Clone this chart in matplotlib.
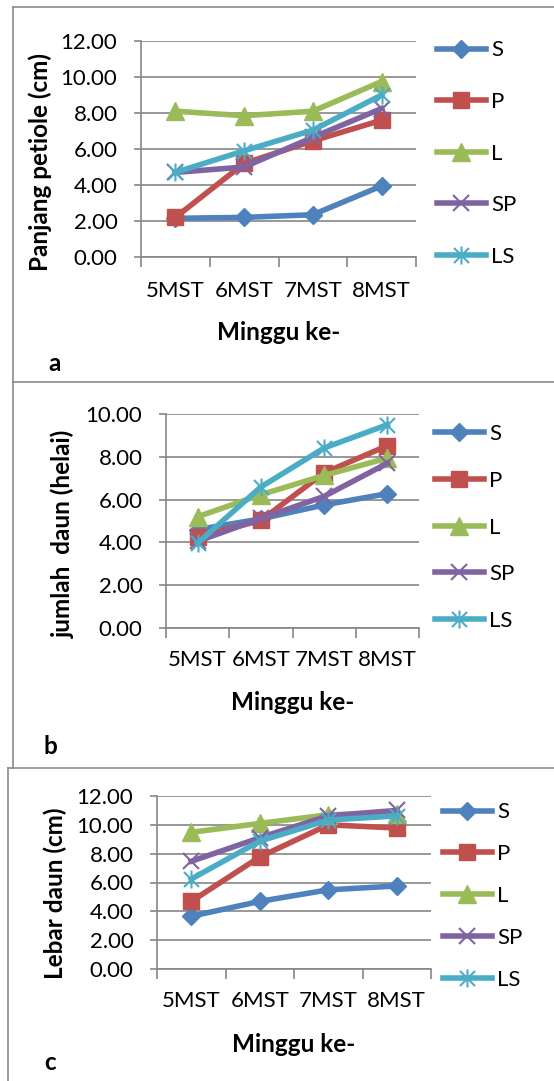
import matplotlib
matplotlib.use('Agg')
import matplotlib.pyplot as plt
from matplotlib.lines import Line2D
from matplotlib.path import Path

plt.rcParams['font.family'] = ['Lato', 'DejaVu Sans']

# data
weeks = ['5MST', '6MST', '7MST', '8MST']
series = ['S', 'P', 'L', 'SP', 'LS']

petiole_S = [2.15, 2.2, 2.35, 3.95]
petiole_P = [2.2, 5.2, 6.45, 7.6]
petiole_L = [8.1, 7.85, 8.1, 9.75]
petiole_SP = [4.7, 5.0, 6.65, 8.25]
petiole_LS = [4.7, 5.9, 7.05, 9.0]

leaves_S = [4.6, 5.1, 5.75, 6.28]
leaves_P = [4.25, 5.03, 7.25, 8.52]
leaves_L = [5.2, 6.23, 7.13, 7.94]
leaves_SP = [4.05, 5.12, 6.15, 7.7]
leaves_LS = [3.97, 6.59, 8.41, 9.5]

width_S = [3.66, 4.69, 5.49, 5.76]
width_P = [4.69, 7.77, 10.0, 9.78]
width_L = [9.48, 10.1, 10.7, 10.78]
width_SP = [7.47, 9.1, 10.63, 11.0]
width_LS = [6.24, 8.87, 10.33, 10.62]

colors = ['#4F81BD', '#C0504D', '#9BBB59', '#8064A2', '#4BACC6']

W, H = 554, 1081
fig = plt.figure(figsize=(W / 100, H / 100), dpi=100)

# excel-style asterisk marker (x plus vertical stroke)
star = Path([(-0.5, -0.5), (0.5, 0.5), (-0.5, 0.5), (0.5, -0.5), (0, -0.6), (0, 0.6)],
            [Path.MOVETO, Path.LINETO, Path.MOVETO, Path.LINETO, Path.MOVETO, Path.LINETO])
markers = [dict(marker='D', ms=9.5), dict(marker='s', ms=12),
           dict(marker='^', ms=13), dict(marker='x', ms=12, mew=1.5),
           dict(marker=star, ms=13, mew=1.5)]

GRID = '#868686'
FS = 16
FSB = 17.5


def fx(x):
    return x / W


def fy(y):
    return 1 - y / H


def frame_line(x0, y0, x1, y1):
    fig.add_artist(Line2D([fx(x0), fx(x1)], [fy(y0), fy(y1)], color='#8c8c8c', lw=1.2))


def panel(box, data, ymax, ylabel, ylab_xy, xlab_xy, letter_xy, letter, leg_xy, leg_sp, xpad):
    l, t, r, b = box
    ax = fig.add_axes([fx(l), fy(b), (r - l) / W, (b - t) / H])
    xs = [i + 0.5 for i in range(len(weeks))]
    for name, vals, c, m in zip(series, data, colors, markers):
        hollow = m['marker'] == 'x' or m['marker'] is star
        ax.plot(xs, vals, color=c, lw=4, label=name, mec=c,
                mfc='none' if hollow else c, clip_on=False, zorder=3, **m)
    ax.set_xlim(0, 4)
    ax.set_ylim(0, ymax)
    ax.set_yticks(range(0, ymax + 1, 2))
    ax.set_yticklabels([f'{v:.2f}' for v in range(0, ymax + 1, 2)], fontsize=FS)
    ax.set_xticks(range(5))
    ax.set_xticklabels([])
    ax.set_xticks(xs, minor=True)
    ax.set_xticklabels(weeks, minor=True, fontsize=FS)
    ax.tick_params(axis='x', which='major', length=7, width=1.2, color=GRID, direction='out')
    ax.tick_params(axis='x', which='minor', length=0, pad=xpad)
    ax.tick_params(axis='y', length=5, width=1.2, color=GRID, pad=12)
    ax.yaxis.grid(True, color=GRID, lw=1.2)
    ax.set_axisbelow(True)
    for s in ('top', 'right'):
        ax.spines[s].set_visible(False)
    for s in ('left', 'bottom'):
        ax.spines[s].set_color(GRID)
        ax.spines[s].set_linewidth(1.2)
    fig.text(fx(ylab_xy[0]), fy(ylab_xy[1]), ylabel, rotation=90, fontsize=FSB,
             fontweight='bold', ha='center', va='center')
    fig.text(fx(xlab_xy[0]), fy(xlab_xy[1]), 'Minggu ke-', fontsize=FSB,
             fontweight='bold', ha='center', va='center')
    fig.text(fx(letter_xy[0]), fy(letter_xy[1]), letter, fontsize=FSB,
             fontweight='bold', ha='center', va='center')
    ax.legend(loc='center left', bbox_to_anchor=(fx(leg_xy[0]), fy(leg_xy[1])),
              bbox_transform=fig.transFigure, frameon=False, fontsize=FS,
              handlelength=2.2, handletextpad=0.25, borderpad=0, borderaxespad=0,
              labelspacing=leg_sp)
    return ax


panel((141, 41, 416, 257),
      [petiole_S, petiole_P, petiole_L, petiole_SP, petiole_LS], 12,
      'Panjang petiole (cm)', (40, 162), (279, 333), (55, 363), 'a', (437, 153.5), 1.42, 17)
panel((166, 414, 419, 628),
      [leaves_S, leaves_P, leaves_L, leaves_SP, leaves_LS], 10,
      'jumlah  daun (helai)', (63, 534), (293, 703), (50, 747), 'b', (435, 527.5), 1.2, 16)
panel((157, 796, 431, 969),
      [width_S, width_P, width_L, width_SP, width_LS], 12,
      'Lebar daun (cm)', (55, 893), (294, 1045), (50, 1063), 'c', (443, 896), 0.98, 16)

# panel frames
frame_line(13, 7, 554, 7)
frame_line(13, 7, 13, 382)
frame_line(13, 382, 554, 382)
frame_line(13, 382, 13, 768)
frame_line(8, 768, 554, 768)
frame_line(8, 768, 8, 1081)

fig.savefig('out.png', dpi=100)
